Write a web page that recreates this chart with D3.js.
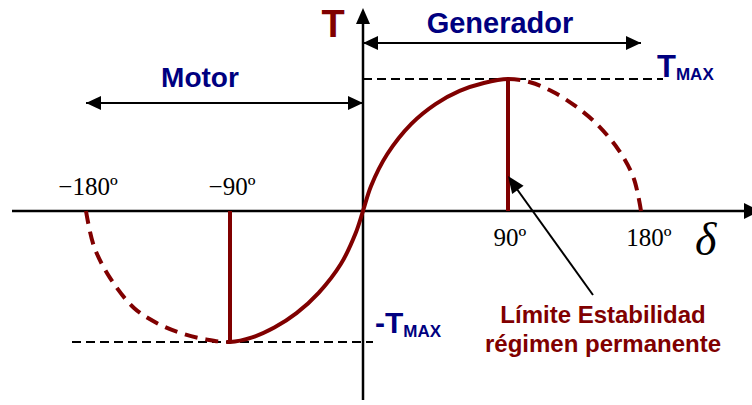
<!DOCTYPE html>
<html>
<head>
<meta charset="utf-8">
<script src="https://cdn.jsdelivr.net/npm/d3@7"></script>
<style>
  html, body { margin: 0; padding: 0; background: #fff; }
  svg { display: block; }
</style>
</head>
<body>
<svg id="chart" width="752" height="405"></svg>
<script>
// Load angle (degrees) and torque (per unit of T_MAX) along the power-angle curve
const delta = [-180, -175, -165, -150, -135, -120, -105, -90, -75, -60, -45, -30, -15, -5, 0,
               5, 15, 30, 45, 60, 75, 90, 105, 120, 135, 150, 165, 175, 180];
const torque = [0, -0.27, -0.51, -0.74, -0.86, -0.935, -0.98, -1, -0.965, -0.89, -0.78, -0.625, -0.405, -0.17, 0,
                0.19, 0.43, 0.66, 0.81, 0.91, 0.97, 1, 0.975, 0.905, 0.80, 0.66, 0.46, 0.25, 0];

// Axis tick angles and labels
const tickAngles = [-180, -90, 90, 180];
const tickLabels = ["\u2212180º", "\u221290º", "90º", "180º"];

// Steady-state stability limits
const limitAngles = [-90, 90];
const limitTorque = [-1, 1];

const RED = "#800000";
const NAVY = "#000080";
const SANS = "Arial, 'Liberation Sans', Helvetica, sans-serif";
const SERIF = "'Times New Roman', 'Liberation Serif', serif";

const svg = d3.select("#chart");

const x = d3.scaleLinear().domain([-180, -90, 0, 90, 180]).range([86, 230, 363, 508, 641]);
const y = d3.scaleLinear().domain([-1, 0, 1]).range([342, 211, 79]);

const pts = delta.map((d, i) => [x(d), y(torque[i])]);

function arrowHead(g, x1, y1, x2, y2, len, half) {
  const a = Math.atan2(y2 - y1, x2 - x1);
  const bx = x2 - len * Math.cos(a), by = y2 - len * Math.sin(a);
  const nx = -Math.sin(a) * half, ny = Math.cos(a) * half;
  g.append("path")
    .attr("d", `M${x2},${y2}L${bx + nx},${by + ny}L${bx - nx},${by - ny}Z`)
    .attr("fill", "#000");
}

// Reference lines at ±T_MAX
svg.append("line")
  .attr("x1", x(0)).attr("x2", 663).attr("y1", y(1)).attr("y2", y(1))
  .attr("stroke", "#000").attr("stroke-width", 2).attr("stroke-dasharray", "9,5");
svg.append("line")
  .attr("x1", 72).attr("x2", x(0) + 10).attr("y1", y(-1)).attr("y2", y(-1))
  .attr("stroke", "#000").attr("stroke-width", 2).attr("stroke-dasharray", "9,5");

// Axes
const axes = svg.append("g");
axes.append("line").attr("x1", 12).attr("x2", 750).attr("y1", y(0)).attr("y2", y(0))
  .attr("stroke", "#000").attr("stroke-width", 2.5);
arrowHead(axes, 700, y(0), 760, y(0), 16, 8);
axes.append("line").attr("x1", x(0)).attr("x2", x(0)).attr("y1", 400).attr("y2", 16)
  .attr("stroke", "#000").attr("stroke-width", 2.5);
arrowHead(axes, x(0), 60, x(0), 8, 16, 7);

// Curve: solid in the stable region, dashed beyond
const defs = svg.append("defs");
defs.append("clipPath").attr("id", "stable")
  .append("rect").attr("x", x(-90)).attr("y", 0).attr("width", x(90) - x(-90)).attr("height", 405);
defs.append("clipPath").attr("id", "unstableL")
  .append("rect").attr("x", 0).attr("y", 0).attr("width", x(-90)).attr("height", 405);
defs.append("clipPath").attr("id", "unstableR")
  .append("rect").attr("x", x(90)).attr("y", 0).attr("width", 752 - x(90)).attr("height", 405);

const line = d3.line().curve(d3.curveCatmullRom.alpha(0.5));

svg.append("path").attr("d", line(pts)).attr("clip-path", "url(#stable)")
  .attr("fill", "none").attr("stroke", RED).attr("stroke-width", 4);
svg.append("path").attr("d", line(pts)).attr("clip-path", "url(#unstableL)")
  .attr("fill", "none").attr("stroke", RED).attr("stroke-width", 4).attr("stroke-dasharray", "13,8");
svg.append("path").attr("d", line(pts.slice().reverse())).attr("clip-path", "url(#unstableR)")
  .attr("fill", "none").attr("stroke", RED).attr("stroke-width", 4).attr("stroke-dasharray", "13,8");

// Stability limit markers
svg.selectAll("line.limit").data(limitAngles).join("line")
  .attr("class", "limit")
  .attr("x1", d => x(d)).attr("x2", d => x(d))
  .attr("y1", y(0)).attr("y2", (d, i) => y(limitTorque[i]))
  .attr("stroke", RED).attr("stroke-width", 4);

// Tick labels
svg.selectAll("text.tick").data(tickAngles).join("text")
  .attr("class", "tick")
  .attr("x", d => x(d) + (d === 180 ? 8 : 2))
  .attr("y", d => d < 0 ? 195 : 246)
  .attr("text-anchor", "middle")
  .attr("font-family", SERIF).attr("font-size", 25)
  .text((d, i) => tickLabels[i]);

// Axis titles
svg.append("text").attr("x", 333).attr("y", 37).attr("text-anchor", "middle")
  .attr("font-family", SANS).attr("font-weight", "bold").attr("font-size", 38)
  .attr("fill", RED).text("T");
svg.append("text").attr("x", 695).attr("y", 255)
  .attr("font-family", SERIF).attr("font-style", "italic").attr("font-size", 46)
  .text("δ");

// Operating regions
const regions = svg.append("g");
regions.append("line").attr("x1", x(0)).attr("x2", x(180)).attr("y1", 43).attr("y2", 43)
  .attr("stroke", "#000").attr("stroke-width", 2);
arrowHead(regions, x(180) - 30, 43, x(180), 43, 15, 7);
arrowHead(regions, x(0) + 30, 43, x(0), 43, 15, 7);
regions.append("text").attr("x", 500).attr("y", 33).attr("text-anchor", "middle")
  .attr("font-family", SANS).attr("font-weight", "bold").attr("font-size", 29)
  .attr("fill", NAVY).text("Generador");

regions.append("line").attr("x1", x(-180)).attr("x2", x(0)).attr("y1", 103).attr("y2", 103)
  .attr("stroke", "#000").attr("stroke-width", 2);
arrowHead(regions, x(-180) + 30, 103, x(-180), 103, 15, 7);
arrowHead(regions, x(0) - 30, 103, x(0), 103, 15, 7);
regions.append("text").attr("x", 200).attr("y", 87).attr("text-anchor", "middle")
  .attr("font-family", SANS).attr("font-weight", "bold").attr("font-size", 28)
  .attr("fill", NAVY).text("Motor");

// T_MAX labels
const tmax = svg.append("text").attr("x", 657).attr("y", 77)
  .attr("font-family", SANS).attr("font-weight", "bold").attr("fill", NAVY);
tmax.append("tspan").attr("font-size", 31).text("T");
tmax.append("tspan").attr("font-size", 17).attr("dy", 3).text("MAX");

const tmin = svg.append("text").attr("x", 375).attr("y", 333)
  .attr("font-family", SANS).attr("font-weight", "bold").attr("fill", NAVY);
tmin.append("tspan").attr("font-size", 30).text("-T");
tmin.append("tspan").attr("font-size", 17).attr("dy", 4).text("MAX");

// Annotation
const note = svg.append("g");
note.append("line").attr("x1", 593).attr("y1", 295).attr("x2", 514).attr("y2", 185)
  .attr("stroke", "#000").attr("stroke-width", 2);
arrowHead(note, 593, 295, x(90), 176, 17, 7);
note.append("text").attr("x", 603).attr("y", 323).attr("text-anchor", "middle")
  .attr("font-family", SANS).attr("font-weight", "bold").attr("font-size", 24)
  .attr("fill", RED).text("Límite Estabilidad");
note.append("text").attr("x", 603).attr("y", 352).attr("text-anchor", "middle")
  .attr("font-family", SANS).attr("font-weight", "bold").attr("font-size", 24)
  .attr("fill", RED).text("régimen permanente");
</script>
</body>
</html>
